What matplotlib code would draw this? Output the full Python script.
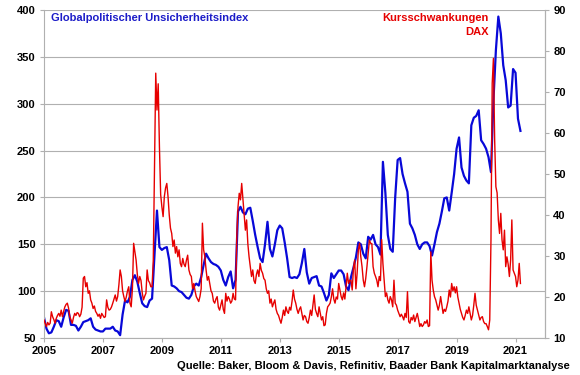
import matplotlib
matplotlib.use("Agg")
import matplotlib.pyplot as plt
import numpy as np

# global economic policy uncertainty, monthly from Jan 2005 (left axis)
epu = [
    72, 60, 55, 56, 62, 69, 68, 62, 72, 80, 79, 64,          # 2005
    64, 63, 58, 62, 67, 68, 69, 71, 62, 59, 58, 57,          # 2006
    57, 60, 60, 60, 62, 58, 57, 53, 75, 90, 88, 94,          # 2007
    112, 117, 110, 98, 87, 84, 83, 90, 92, 140, 186, 147,    # 2008
    144, 146, 147, 133, 106, 105, 103, 100, 99, 96, 93, 92,  # 2009
    96, 105, 108, 106, 115, 128, 140, 135, 131, 129, 128, 126,  # 2010
    122, 112, 106, 115, 121, 103, 112, 185, 190, 184, 182, 188,  # 2011
    189, 175, 160, 147, 135, 131, 150, 174, 145, 137, 150, 165,  # 2012
    170, 167, 152, 135, 115, 114, 115, 114, 118, 130, 145, 120,  # 2013
    108, 114, 115, 116, 106, 105, 98, 90, 96, 119, 114, 118,     # 2014
    122, 122, 118, 105, 101, 115, 125, 136, 152, 150, 140, 135,  # 2015
    158, 155, 160, 150, 147, 139, 238, 205, 160, 145, 142, 200,  # 2016
    240, 242, 225, 215, 206, 172, 167, 160, 150, 145, 150, 152,  # 2017
    152, 148, 138, 150, 163, 172, 185, 199, 200, 186, 205, 225,  # 2018
    252, 264, 232, 223, 218, 215, 277, 285, 287, 293, 261, 257,  # 2019
    252, 243, 227, 303, 357, 393, 375, 341, 325, 296, 298, 337,  # 2020
    333, 284, 271,                                               # 2021
]

# DAX volatility, half-monthly from Jan 2005 (right axis)
vdax = [
    14.4, 13.5, 12.8, 13.8, 13.2, 13.6, 16.4, 15.2, 14.5, 13.6, 14.8, 15.5,
    16.0, 15.3, 16.8, 15.2, 16.5, 17.6, 18.2, 18.5, 17.3, 15.2, 14.4, 13.6,  # 2005
    15.0, 16.0, 15.5, 16.2, 16.0, 15.2, 15.8, 17.5, 24.6, 25.0, 22.5, 23.5,
    20.9, 21.5, 19.3, 18.5, 17.2, 17.8, 16.5, 16.0, 15.3, 15.8, 14.8, 16.0,  # 2006
    15.5, 15.0, 15.2, 19.3, 17.5, 16.8, 17.0, 17.6, 18.5, 19.5, 20.5, 19.0,
    20.1, 23.0, 26.6, 25.0, 21.5, 20.1, 18.9, 20.0, 21.5, 22.5, 18.5, 17.6,  # 2007
    22.0, 33.1, 31.0, 29.0, 25.5, 23.3, 25.0, 24.0, 21.0, 19.3, 20.2, 20.9,
    26.6, 24.0, 23.5, 22.5, 22.5, 29.0, 52.0, 74.6, 65.6, 72.0, 56.7, 45.0,  # 2008
    42.0, 39.6, 44.5, 46.6, 47.7, 44.5, 40.0, 36.8, 35.5, 32.3, 33.9, 30.7,
    32.3, 29.8, 31.5, 28.2, 27.4, 29.4, 28.0, 27.4, 29.0, 30.2, 26.6, 25.5,  # 2009
    25.0, 22.0, 23.3, 21.5, 20.1, 19.5, 18.9, 20.1, 22.0, 38.0, 31.5, 29.8,
    26.6, 24.1, 25.0, 23.3, 21.5, 20.9, 19.0, 18.5, 19.5, 20.1, 17.5, 16.8,  # 2010
    18.0, 19.3, 17.0, 16.0, 20.9, 19.0, 20.1, 19.5, 18.5, 19.0, 20.9, 19.5,
    19.3, 34.7, 42.0, 45.3, 43.7, 47.7, 44.0, 40.4, 36.3, 38.8, 33.0, 29.8,  # 2011
    27.4, 25.0, 26.6, 24.0, 23.3, 25.5, 26.6, 25.0, 28.2, 26.5, 25.8, 24.5,
    24.1, 22.0, 20.9, 21.5, 18.5, 19.5, 17.6, 18.5, 19.3, 17.0, 16.0, 15.5,  # 2012
    14.5, 13.6, 15.0, 16.8, 15.5, 17.6, 16.5, 16.0, 17.5, 16.8, 19.0, 21.7,
    19.5, 18.5, 17.0, 16.0, 17.0, 17.6, 16.0, 14.4, 15.5, 15.2, 14.0, 13.6,  # 2013
    15.0, 16.8, 15.5, 18.0, 20.5, 17.0, 16.0, 15.2, 17.6, 16.0, 14.4, 15.2,
    13.0, 13.2, 16.0, 17.6, 18.0, 18.5, 20.0, 22.0, 19.5, 18.5, 20.0, 19.5,  # 2014
    23.3, 21.7, 20.1, 19.3, 21.0, 19.5, 22.5, 25.8, 23.3, 24.1, 24.0, 21.7,
    27.0, 29.0, 22.0, 25.8, 31.5, 33.1, 29.8, 27.4, 24.1, 22.5, 24.5, 27.4,  # 2015
    30.7, 33.9, 33.1, 33.0, 27.4, 25.8, 25.0, 24.1, 22.5, 25.0, 24.0, 34.0,
    28.2, 24.1, 20.1, 21.0, 19.3, 18.5, 20.1, 19.3, 17.6, 24.1, 18.5, 18.0,  # 2016
    16.8, 16.0, 15.2, 15.8, 15.2, 14.4, 16.0, 15.0, 21.3, 14.0, 13.6, 15.0,
    14.4, 15.6, 14.0, 15.0, 16.0, 14.5, 12.8, 13.5, 12.8, 13.2, 14.0, 13.6,  # 2017
    14.4, 12.8, 13.0, 31.0, 24.1, 21.7, 20.1, 19.3, 18.0, 16.8, 18.0, 20.1,
    18.0, 16.0, 17.0, 16.5, 17.6, 19.0, 21.7, 20.0, 23.3, 21.5, 22.5, 21.0,  # 2018
    22.5, 20.0, 18.5, 17.0, 16.0, 15.0, 14.4, 15.5, 16.8, 16.0, 17.6, 16.0,
    14.4, 15.5, 18.0, 20.9, 18.0, 16.8, 15.5, 14.4, 15.0, 15.2, 14.0, 13.5,  # 2019
    13.5, 12.8, 12.0, 14.4, 33.9, 72.1, 78.2, 58.3, 46.9, 45.4, 38.8, 35.5,
    40.4, 33.9, 31.5, 36.3, 27.4, 29.8, 28.0, 25.0, 29.0, 38.8, 26.6, 25.8,  # 2020
    25.0, 22.5, 24.1, 28.2, 23.3,                                            # 2021
]

year_ticks = [2005, 2007, 2009, 2011, 2013, 2015, 2017, 2019, 2021]
left_ticks = [50, 100, 150, 200, 250, 300, 350, 400]
right_ticks = [10, 20, 30, 40, 50, 60, 70, 80, 90]

plt.rcParams['font.family'] = 'Liberation Sans'
plt.rcParams['font.weight'] = 'bold'

x_epu = 2005 + np.arange(len(epu)) / 12
x_vdax = 2005 + np.arange(len(vdax)) / 24

grey = '#b0b0b0'
blue = '#0808d8'
red = '#e60000'

fig = plt.figure(figsize=(5.8, 3.75), dpi=100)
ax = fig.add_axes([44 / 580, 1 - 338 / 375, 501 / 580, 328 / 375])
ax2 = ax.twinx()

ax.plot(x_epu, epu, color=blue, lw=1.6)
ax2.plot(x_vdax, vdax, color=red, lw=1.0)

ax.set_xlim(2005, 2022)
ax.set_ylim(50, 400)
ax2.set_ylim(10, 90)
ax.set_xticks(year_ticks)
ax.set_yticks(left_ticks)
ax2.set_yticks(right_ticks)

ax.yaxis.grid(True, color=grey, lw=0.8)
ax.set_axisbelow(True)

for a in (ax, ax2):
    for s in a.spines.values():
        s.set_color(grey)
    a.spines['top'].set_visible(False)
    a.tick_params(labelsize=8, colors=grey, labelcolor='black',
                  length=3, direction='out', pad=3)
ax2.spines['left'].set_visible(False)
ax2.spines['bottom'].set_visible(False)

fig.text(51 / 580, 1 - 18 / 375, 'Globalpolitischer Unsicherheitsindex',
         color='#1c1cc8', fontsize=8, fontweight='bold', va='center', ha='left')
fig.text(489 / 580, 1 - 18 / 375, 'Kursschwankungen',
         color=red, fontsize=8, fontweight='bold', va='center', ha='right')
fig.text(489 / 580, 1 - 32 / 375, 'DAX',
         color=red, fontsize=8, fontweight='bold', va='center', ha='right')
fig.text(570 / 580, 1 - 366 / 375,
         'Quelle: Baker, Bloom & Davis, Refinitiv, Baader Bank Kapitalmarktanalyse',
         fontsize=8, fontweight='bold', va='center', ha='right')

fig.savefig('out.png', dpi=100)
